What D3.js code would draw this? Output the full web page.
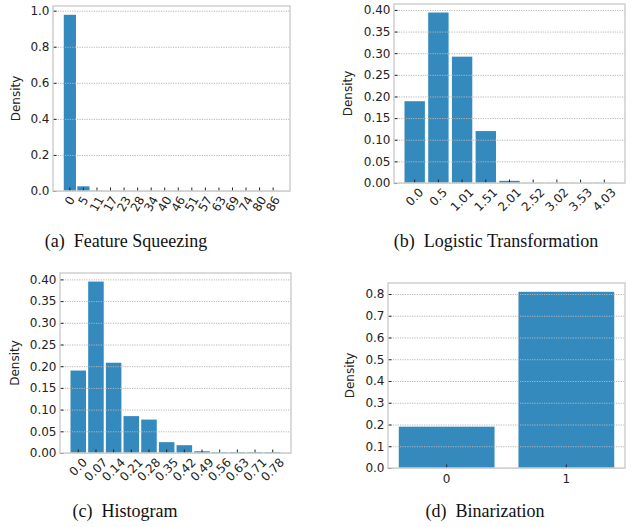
<!DOCTYPE html>
<meta charset="utf-8">
<style>
    body { margin: 0; background: #fff; }
    .tick text { font: 12px "DejaVu Sans", sans-serif; fill: #222; }
    .ylabel { font: 12px "DejaVu Sans", sans-serif; fill: #222; }
    .caption { font: 18px "Liberation Serif", "Times New Roman", serif; fill: #111; }
</style>
<body>
<script src="https://cdn.jsdelivr.net/npm/d3@7"></script>
<script>

    // data
    var catsA = ["0", "5", "11", "17", "23", "28", "34", "40", "46", "51", "57", "63", "69", "74", "80", "86"];
    var valsA = [0.977, 0.026, 0.002, 0.001, 0.001, 0.001, 0.001, 0.001, 0.001, 0.001, 0.001, 0.001, 0.001, 0.001, 0.001, 0.001];

    var catsB = ["0.0", "0.5", "1.01", "1.51", "2.01", "2.52", "3.02", "3.53", "4.03"];
    var valsB = [0.189, 0.394, 0.292, 0.120, 0.005, 0.0005, 0.0005, 0.0005, 0.0005];

    var catsC = ["0.0", "0.07", "0.14", "0.21", "0.28", "0.35", "0.42", "0.49", "0.56", "0.63", "0.71", "0.78"];
    var valsC = [0.190, 0.395, 0.208, 0.085, 0.077, 0.025, 0.018, 0.004, 0.002, 0.002, 0.002, 0.002];

    var catsD = ["0", "1"];
    var valsD = [0.190, 0.810];

    var ticksA = [0, 0.2, 0.4, 0.6, 0.8, 1.0];
    var ticksB = [0, 0.05, 0.10, 0.15, 0.20, 0.25, 0.30, 0.35, 0.40];
    var ticksD = [0, 0.1, 0.2, 0.3, 0.4, 0.5, 0.6, 0.7, 0.8];

    var captions = ["(a)  Feature Squeezing", "(b)  Logistic Transformation", "(c)  Histogram", "(d)  Binarization"];

    var panels = [
        { cats: catsA, vals: valsA, ticks: ticksA, fmt: ".1f", bw: 0.9, rot: 60,
          left: 53, top: 6, width: 237, height: 185, labelOff: 32, cap: captions[0], cx: 126, cy: 247 },
        { cats: catsB, vals: valsB, ticks: ticksB, fmt: ".2f", bw: 0.86, rot: 45,
          left: 394, top: 4, width: 231, height: 179, labelOff: 41, cap: captions[1], cx: 496, cy: 247 },
        { cats: catsC, vals: valsC, ticks: ticksB, fmt: ".2f", bw: 0.88, rot: 45,
          left: 60, top: 273, width: 231, height: 180, labelOff: 40, cap: captions[2], cx: 125, cy: 517 },
        { cats: catsD, vals: valsD, ticks: ticksD, fmt: ".1f", bw: 0.8, rot: 0,
          left: 388, top: 283, width: 237, height: 185, labelOff: 33, cap: captions[3], cx: 485, cy: 517 }
    ];

    var svg = d3.select("body").append("svg")
        .attr("width", 635)
        .attr("height", 527);

    panels.forEach(function (p) {
        var n = p.cats.length;
        var x = d3.scaleBand()
            .domain(p.cats)
            .range([0, p.width])
            .paddingInner(1 - p.bw)
            .paddingOuter(0.05 * (n - 1 + p.bw));
        var y = d3.scaleLinear()
            .domain([0, d3.max(p.vals) * 1.05])
            .range([p.height, 0]);

        var g = svg.append("g")
            .attr("transform", "translate(" + p.left + "," + p.top + ")");

        // bars
        g.selectAll(".bar")
            .data(p.vals)
            .enter().append("rect")
            .attr("class", "bar")
            .attr("x", function (d, i) { return x(p.cats[i]); })
            .attr("width", x.bandwidth())
            .attr("y", function (d) { return y(d); })
            .attr("height", function (d) { return p.height - y(d); })
            .attr("fill", "#348abd");

        // grid on top
        g.selectAll(".grid")
            .data(p.ticks)
            .enter().append("line")
            .attr("x1", 0).attr("x2", p.width)
            .attr("y1", function (d) { return y(d) + 0.5; })
            .attr("y2", function (d) { return y(d) + 0.5; })
            .attr("stroke", "#b5b5b5")
            .attr("stroke-width", 1)
            .attr("stroke-dasharray", "1.2,1.2");

        // y axis, inward ticks
        var ya = g.append("g")
            .call(d3.axisLeft(y).tickValues(p.ticks).tickFormat(d3.format(p.fmt)).tickSize(-3.5).tickPadding(3.5));
        ya.select(".domain").remove();
        ya.selectAll(".tick line").attr("stroke", "#222");

        // x axis, inward ticks
        var xa = g.append("g")
            .attr("transform", "translate(0," + p.height + ")")
            .call(d3.axisBottom(x).tickSize(-3.5).tickPadding(4));
        xa.select(".domain").remove();
        xa.selectAll(".tick line").attr("stroke", "#222");

        if (p.rot) {
            var a = p.rot * Math.PI / 180;
            xa.selectAll(".tick text")
                .attr("y", null).attr("dy", null)
                .attr("text-anchor", "middle")
                .attr("dominant-baseline", "central")
                .attr("transform", function () {
                    var L = this.getComputedTextLength(), H = 9.5;
                    var h = L * Math.sin(a) + H * Math.cos(a);
                    return "translate(0," + (4 + h / 2) + ") rotate(" + (-p.rot) + ")";
                });
        } else {
            xa.selectAll(".tick text").attr("dy", "0.9em");
        }

        // frame
        g.append("rect")
            .attr("width", p.width).attr("height", p.height)
            .attr("fill", "none")
            .attr("stroke", "#cfcfcf")
            .attr("stroke-width", 1.5);

        g.append("text")
            .attr("class", "ylabel")
            .attr("transform", "translate(" + (-p.labelOff) + "," + (p.height / 2) + ") rotate(-90)")
            .attr("text-anchor", "middle")
            .attr("dy", "-0.1em")
            .text("Density");

        svg.append("text")
            .attr("class", "caption")
            .attr("x", p.cx).attr("y", p.cy)
            .attr("text-anchor", "middle")
            .attr("xml:space", "preserve")
            .style("white-space", "pre")
            .text(p.cap);
    });

</script>
